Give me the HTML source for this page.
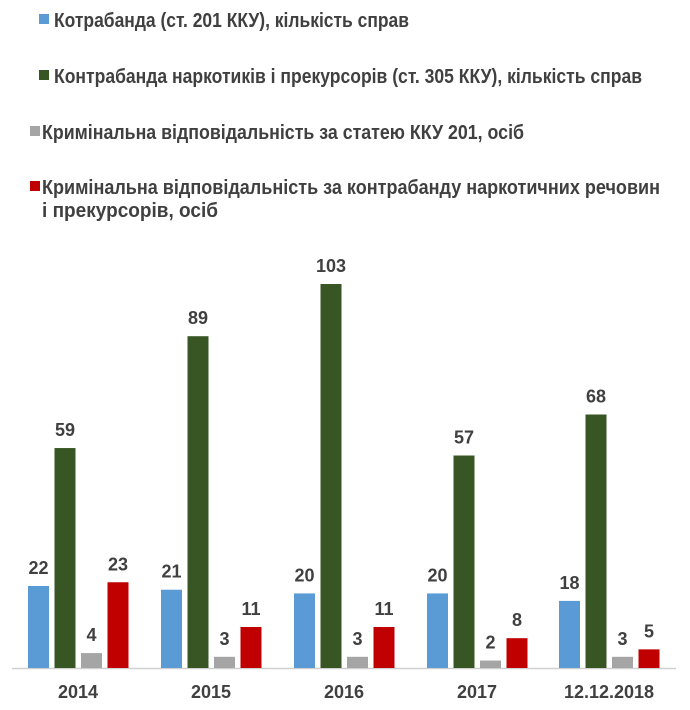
<!DOCTYPE html>
<html><head><meta charset="utf-8"><style>body{margin:0;background:#fff}svg{display:block}</style></head><body>
<svg width="690" height="710" xmlns="http://www.w3.org/2000/svg" font-family="Liberation Sans, sans-serif" fill="#404040">
<g font-size="20" font-weight="bold" fill="#404040">
<rect x="39" y="14" width="10" height="10" fill="#5b9bd5"/>
<text x="54" y="27" textLength="355" lengthAdjust="spacingAndGlyphs">Котрабанда (ст. 201 ККУ), кількість справ</text>
<rect x="39" y="70" width="10" height="10" fill="#375623"/>
<text x="54" y="83" textLength="588" lengthAdjust="spacingAndGlyphs">Контрабанда наркотиків і прекурсорів (ст. 305 ККУ), кількість справ</text>
<rect x="30" y="126" width="10" height="10" fill="#a5a5a5"/>
<text x="42" y="139" textLength="482" lengthAdjust="spacingAndGlyphs">Кримінальна відповідальність за статею ККУ 201, осіб</text>
<rect x="30" y="181" width="10" height="10" fill="#c00000"/>
<text x="42" y="194" textLength="618" lengthAdjust="spacingAndGlyphs">Кримінальна відповідальність за контрабанду наркотичних речовин</text>
<text x="42" y="217" textLength="176" lengthAdjust="spacingAndGlyphs">і прекурсорів,  осіб</text>
</g>
<line x1="12" y1="668.5" x2="676" y2="668.5" stroke="#d0d0d0" stroke-width="1.5"/>
<g id="bars"></g>
<g font-size="18" font-weight="bold" text-anchor="middle" fill="#404040" id="labels"></g>
</svg>
<script>
const d=[[22,59,4,23],[21,89,3,11],[20,103,3,11],[20,57,2,8],[18,68,3,5]];
const yrs=["2014","2015","2016","2017","12.12.2018"];
const cols=["#5b9bd5","#375623","#a5a5a5","#c00000"];
const starts=[28,161,294,427,559];
let b="",l="";
d.forEach((g,i)=>{g.forEach((v,j)=>{const x=starts[i]+j*26.5,h=v*3.728,y=668-h;
b+=`<rect x="${x}" y="${y}" width="21" height="${h}" fill="${cols[j]}"/>`;
l+=`<text x="${x+10.5}" y="${y-12}">${v}</text>`;});
l+=`<text x="${starts[i]+50}" y="698">${yrs[i]}</text>`;});
document.getElementById("bars").innerHTML=b;document.getElementById("labels").innerHTML=l;
</script>
</body></html>
